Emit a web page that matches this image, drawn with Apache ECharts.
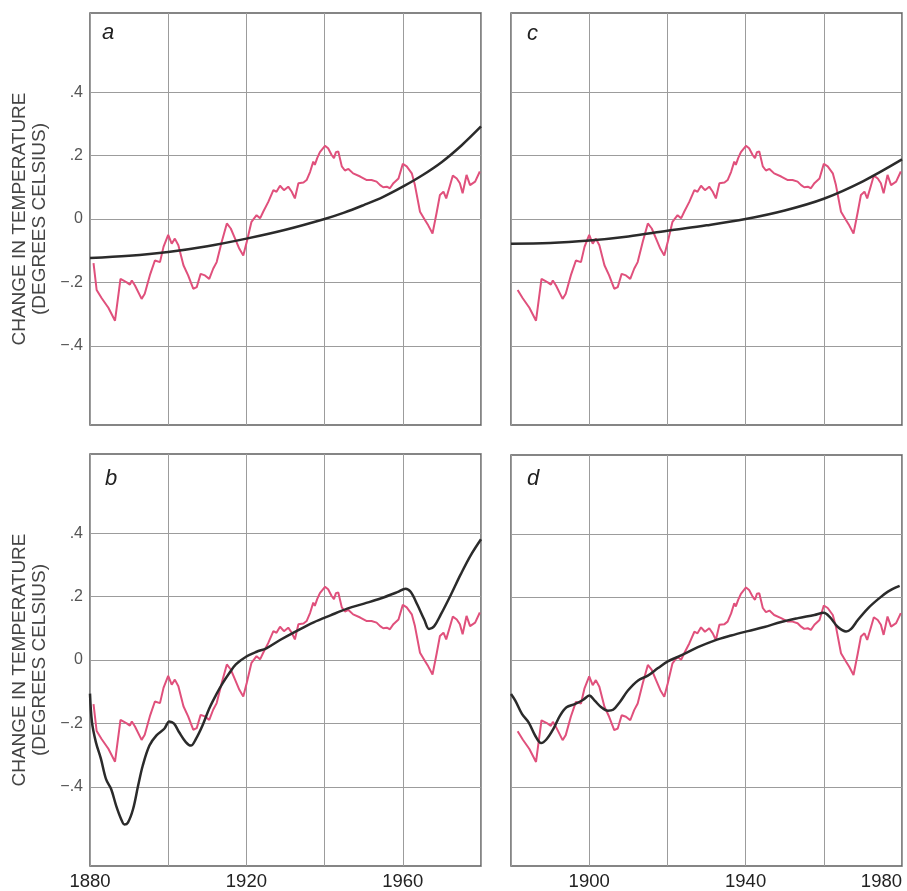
<!DOCTYPE html>
<html>
<head>
<meta charset="utf-8">
<script src="https://cdn.jsdelivr.net/npm/echarts@6/dist/echarts.min.js"></script>
<style>
  html, body { margin: 0; padding: 0; background: #fff; }
  #chart { width: 907px; height: 891px; }
</style>
</head>
<body>
<div id="chart"></div>
<script>
// Observed global temperature change (degrees Celsius), 1880-1980
const obsYears = [1880.9,1881.7,1883.0,1884.7,1886.4,1887.8,1889.4,1890.2,1890.7,1891.5,1893.2,1894.0,1895.3,1896.6,1897.9,1898.8,1900.0,1900.9,1901.7,1902.6,1903.9,1905.1,1906.4,1907.3,1908.3,1909.4,1910.5,1911.5,1912.4,1913.7,1915.0,1916.0,1917.1,1918.2,1919.2,1920.1,1921.3,1922.6,1923.5,1924.3,1925.6,1926.9,1927.7,1928.6,1929.6,1930.7,1931.6,1932.4,1933.3,1934.6,1935.4,1936.3,1937.1,1937.5,1938.1,1938.8,1940.1,1940.9,1941.8,1942.4,1942.9,1943.5,1944.4,1945.2,1946.1,1947.3,1949.1,1950.8,1952.0,1953.3,1954.2,1955.0,1955.9,1956.7,1957.6,1958.9,1960.0,1961.0,1962.3,1963.1,1964.4,1965.7,1966.5,1967.6,1968.7,1969.5,1970.4,1971.1,1972.1,1972.8,1973.8,1974.6,1975.3,1976.3,1977.2,1978.5,1979.7];
const obsValues = [-0.139,-0.224,-0.250,-0.280,-0.321,-0.189,-0.200,-0.207,-0.194,-0.210,-0.252,-0.236,-0.178,-0.131,-0.136,-0.088,-0.050,-0.078,-0.062,-0.083,-0.146,-0.178,-0.220,-0.215,-0.173,-0.178,-0.189,-0.157,-0.136,-0.072,-0.014,-0.030,-0.062,-0.094,-0.115,-0.072,-0.009,0.012,0.002,0.023,0.054,0.091,0.086,0.105,0.091,0.102,0.086,0.065,0.113,0.115,0.123,0.149,0.181,0.171,0.192,0.211,0.231,0.223,0.202,0.192,0.211,0.213,0.166,0.153,0.158,0.144,0.134,0.123,0.123,0.118,0.107,0.100,0.102,0.097,0.113,0.128,0.174,0.166,0.144,0.107,0.023,-0.004,-0.020,-0.046,0.023,0.076,0.086,0.065,0.107,0.137,0.128,0.113,0.081,0.139,0.107,0.118,0.150];

// Model curve, panel a
const modelAYears = [1880,1890,1900,1910,1920,1930,1940,1945,1950,1955,1960,1965,1970,1975,1980];
const modelAValues = [-0.123,-0.116,-0.104,-0.086,-0.062,-0.034,0.000,0.020,0.044,0.070,0.102,0.138,0.180,0.232,0.292];

// Model curve, panel c
const modelCYears = [1880,1890,1900,1910,1920,1930,1940,1950,1960,1970,1980];
const modelCValues = [-0.078,-0.076,-0.068,-0.055,-0.037,-0.020,0.000,0.027,0.064,0.119,0.188];

// Model curve, panel b
const modelBYears = [1880,1880.5,1881.5,1882.8,1884.1,1885.4,1886.7,1888.0,1888.8,1889.7,1891.0,1892.3,1893.5,1895.2,1897.0,1899.0,1900.3,1901.5,1902.8,1904.5,1905.8,1907.1,1908.8,1910.5,1912.2,1913.9,1915.6,1917.3,1920.0,1922.6,1925.1,1928.6,1932.9,1937.2,1941.5,1945.8,1950.1,1954.3,1958.6,1960.7,1962.0,1963.7,1965.5,1966.7,1968.0,1969.7,1972.3,1974.8,1977.4,1980];
const modelBValues = [-0.106,-0.196,-0.259,-0.312,-0.376,-0.407,-0.460,-0.503,-0.519,-0.513,-0.471,-0.397,-0.333,-0.270,-0.238,-0.217,-0.194,-0.201,-0.228,-0.259,-0.270,-0.249,-0.206,-0.153,-0.111,-0.074,-0.042,-0.014,0.011,0.026,0.037,0.063,0.092,0.119,0.141,0.162,0.178,0.194,0.214,0.225,0.215,0.175,0.127,0.098,0.106,0.143,0.206,0.270,0.331,0.381];

// Model curve, panel d
const modelDYears = [1880,1881.1,1882.8,1884.5,1886.2,1887.7,1889.1,1890.8,1892.5,1894.2,1896.3,1898.5,1900.0,1901.4,1903.1,1904.8,1906.1,1907.8,1909.9,1912.5,1915.0,1917.6,1920.1,1923.5,1927.8,1932.0,1936.3,1940.6,1944.8,1949.1,1953.4,1957.6,1960.0,1961.5,1963.6,1965.7,1967.0,1968.7,1971.3,1973.9,1976.4,1979.4];
const modelDValues = [-0.106,-0.127,-0.169,-0.196,-0.238,-0.261,-0.249,-0.217,-0.175,-0.148,-0.138,-0.124,-0.111,-0.127,-0.148,-0.159,-0.156,-0.132,-0.095,-0.063,-0.048,-0.024,-0.003,0.016,0.042,0.063,0.079,0.093,0.106,0.122,0.134,0.144,0.151,0.138,0.106,0.092,0.100,0.128,0.165,0.194,0.218,0.236];

// Axis ticks and labels
const yTicks = [-0.4, -0.2, 0, 0.2, 0.4];
const leftYearLabels = [1880, 1920, 1960];
const rightYearLabels = [1900, 1940, 1980];
const panelLetters = ['a', 'b', 'c', 'd'];

const zip = (xs, ys) => xs.map((x, i) => [x, ys[i]]);

const PINK = '#e0507c';
const DARK = '#2b2b2b';
const FONT = 'Liberation Sans, Arial, sans-serif';

const grids = [
  { left: 90,  top: 13,  width: 391, height: 412 },  // a
  { left: 90,  top: 454, width: 391, height: 413 },  // b
  { left: 511, top: 13,  width: 391, height: 412 },  // c
  { left: 511, top: 455, width: 391, height: 412 }   // d
].map(g => Object.assign(g, { show: true, borderColor: '#5e5e5e', borderWidth: 1.5, backgroundColor: '#fff' }));

function fmtY(v) {
  if (Math.abs(v) < 1e-9) return '0';
  const s = '.' + Math.round(Math.abs(v) * 10);
  return v < 0 ? '\u2212' + s : s;
}

const xAxes = grids.map((g, i) => {
  const bottom = (i === 1 || i === 3);
  const labels = i === 1 ? leftYearLabels : rightYearLabels;
  return {
    type: 'value', gridIndex: i, min: 1880, max: 1980, interval: 20,
    axisLine: { show: false }, axisTick: { show: false },
    splitLine: { show: true, lineStyle: { color: '#9c9c9c', width: 1 } },
    axisLabel: {
      show: bottom, margin: 6, fontSize: 18.5, color: '#222', fontFamily: FONT,
      alignMaxLabel: 'right',
      formatter: v => labels.indexOf(Math.round(v)) >= 0 ? String(Math.round(v)) : ''
    }
  };
});

const yAxes = grids.map((g, i) => {
  const left = (i === 0 || i === 1);
  return {
    type: 'value', gridIndex: i, min: -0.65, max: 0.65,
    axisLine: { show: false },
    axisTick: { show: false, customValues: yTicks },
    splitLine: { show: true, lineStyle: { color: '#9c9c9c', width: 1 } },
    axisLabel: {
      show: left, customValues: yTicks, margin: 7, fontSize: 16, color: '#555', fontFamily: FONT,
      formatter: fmtY
    },
    name: left ? 'CHANGE IN TEMPERATURE\n(DEGREES CELSIUS)' : '',
    nameLocation: 'middle', nameRotate: 90, nameGap: 40,
    nameTextStyle: { fontSize: 19, lineHeight: 20, color: '#444', fontFamily: FONT }
  };
});

const obs = zip(obsYears, obsValues);
const obsLate = obs.slice(1);
const models = [
  zip(modelAYears, modelAValues),
  zip(modelBYears, modelBValues),
  zip(modelCYears, modelCValues),
  zip(modelDYears, modelDValues)
];

const series = [];
grids.forEach((g, i) => {
  series.push({
    type: 'line', xAxisIndex: i, yAxisIndex: i, data: i < 2 ? obs : obsLate,
    showSymbol: false, smooth: false, z: 2,
    lineStyle: { color: PINK, width: 2 }, silent: true, animation: false
  });
  series.push({
    type: 'line', xAxisIndex: i, yAxisIndex: i, data: models[i],
    showSymbol: false, smooth: 0.35, z: 3,
    lineStyle: { color: DARK, width: 2.5 }, silent: true, animation: false
  });
});

const letterPos = [[102, 22], [105, 468], [527, 23], [527, 468]];
const titles = panelLetters.map((t, i) => ({
  text: t, left: letterPos[i][0], top: letterPos[i][1], padding: 0,
  textStyle: { fontSize: 22, fontStyle: 'italic', fontWeight: 'normal', color: '#222', fontFamily: FONT }
}));

const chart = echarts.init(document.getElementById('chart'), null, { renderer: 'canvas' });
chart.setOption({
  animation: false,
  backgroundColor: '#fff',
  textStyle: { fontFamily: FONT },
  title: titles,
  grid: grids,
  xAxis: xAxes,
  yAxis: yAxes,
  series: series
});
</script>
</body>
</html>
